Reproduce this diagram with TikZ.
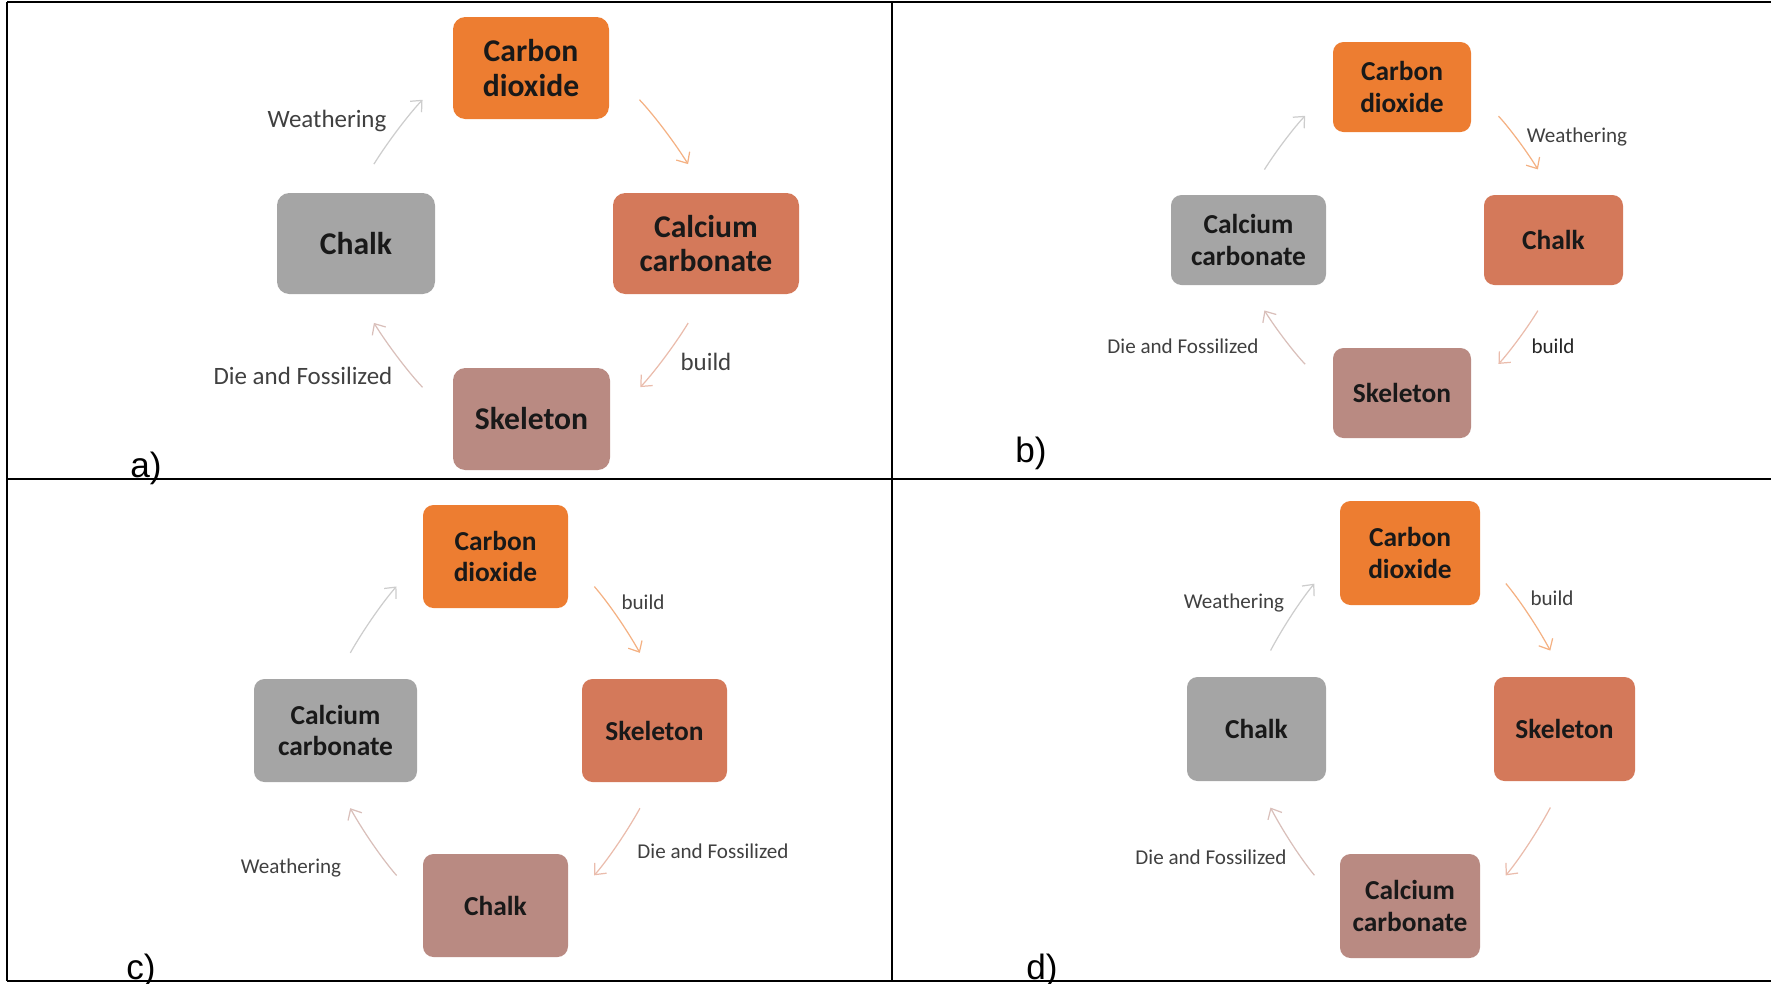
\documentclass[tikz,border=0pt]{standalone}
\usepackage{fontspec}
\setmainfont{Carlito}
\newfontfamily\panelfont{Liberation Sans}
\usetikzlibrary{arrows.meta}
\definecolor{cycorange}{HTML}{ED7D31}
\definecolor{cycterra}{HTML}{D4795A}
\definecolor{cycrose}{HTML}{B98A82}
\definecolor{cycgray}{HTML}{A5A5A5}
\definecolor{labelgray}{HTML}{404040}

\begin{document}
\begin{tikzpicture}[x=1cm, y=1cm,
    stage/.style={rounded corners=3pt, inner sep=0pt, outer sep=0pt, align=center,
      text=black!90, font=\bfseries\fontsize{7.8}{9}\selectfont},
    big stage/.style={stage, rounded corners=3.5pt, font=\bfseries\fontsize{9}{9.8}\selectfont},
    process/.style={text=labelgray, inner sep=0pt, font=\fontsize{6}{7}\selectfont},
    big process/.style={process, font=\fontsize{7.1}{8}\selectfont},
    flow/.style={line width=0.35pt, -{Straight Barb[length=2.5pt,width=4.5pt]}},
    % vertical anchor -> side anchor, and the other way round
    to side/.style={flow, shorten <=0.30cm, shorten >=0.40cm},
    from side/.style={flow, shorten <=0.40cm, shorten >=0.30cm},
    big to side/.style={flow, shorten <=0.34cm, shorten >=0.44cm},
    big from side/.style={flow, shorten <=0.44cm, shorten >=0.34cm},
    panel/.style={font=\panelfont\fontsize{10}{12}\selectfont, anchor=base, inner sep=0pt},
    grid line/.style={line width=0.6pt}]

  \useasboundingbox (0,0) rectangle (17.71,-9.83);

  % === Table frame ===
  \draw[grid line] (0.07,-0.02) -- (17.71,-0.02);
  \draw[grid line] (0.07,-4.79) -- (17.71,-4.79);
  \draw[grid line] (0.07,-9.81) -- (17.71,-9.81);
  \draw[grid line] (0.07,-0.02) -- (0.07,-9.81);
  \draw[grid line] (8.92,-0.02) -- (8.92,-9.81);

  % === a) ===
  \node[big stage, fill=cycorange, minimum width=1.56cm, minimum height=1.02cm]
    (co2a) at (5.31,-0.68) {Carbon\\dioxide};
  \node[big stage, fill=cycgray, minimum width=1.58cm, minimum height=1.01cm]
    (chalka) at (3.56,-2.435) {Chalk};
  \node[big stage, fill=cycterra, minimum width=1.86cm, minimum height=1.01cm]
    (caco3a) at (7.06,-2.435) {Calcium\\carbonate};
  \node[big stage, fill=cycrose, minimum width=1.57cm, minimum height=1.02cm]
    (skela) at (5.315,-4.19) {Skeleton};

  \draw[big to side, draw=cycgray!55] (chalka.north) to[bend left=6] (co2a.west);
  \draw[big from side, draw=cycorange!60] (co2a.east) to[bend left=6] (caco3a.north);
  \draw[big to side, draw=cycterra!50] (caco3a.south) to[bend left=6] (skela.east);
  \draw[big from side, draw=cycrose!55] (skela.west) to[bend left=6] (chalka.south);

  \node[big process] (wa) at (3.27,-1.21) {Weathering};
  \node[big process] (ba) at (7.06,-3.62) {build};
  \node[big process] (da) at (3.03,-3.76) {Die and Fossilized};
  \node[panel] (pa) at (1.46,-4.77) {a)};

  % === b) ===
  \node[stage, fill=cycorange, minimum width=1.38cm, minimum height=0.90cm]
    (co2b) at (14.02,-0.87) {Carbon\\dioxide};
  \node[stage, fill=cycgray, minimum width=1.55cm, minimum height=0.90cm]
    (caco3b) at (12.485,-2.40) {Calcium\\carbonate};
  \node[stage, fill=cycterra, minimum width=1.39cm, minimum height=0.90cm]
    (chalkb) at (15.535,-2.40) {Chalk};
  \node[stage, fill=cycrose, minimum width=1.38cm, minimum height=0.90cm]
    (skelb) at (14.02,-3.93) {Skeleton};

  \draw[to side, draw=cycgray!55] (caco3b.north) to[bend left=6] (co2b.west);
  \draw[from side, draw=cycorange!60] (co2b.east) to[bend left=6] (chalkb.north);
  \draw[to side, draw=cycterra!50] (chalkb.south) to[bend left=6] (skelb.east);
  \draw[from side, draw=cycrose!55] (skelb.west) to[bend left=6] (caco3b.south);

  \node[process] (wb) at (15.77,-1.37) {Weathering};
  \node[process, text=black!85] (bb) at (15.53,-3.46) {build};
  \node[process] (db) at (11.83,-3.46) {Die and Fossilized};
  \node[panel] (pb) at (10.31,-4.62) {b)};

  % === c) ===
  \node[stage, fill=cycorange, minimum width=1.45cm, minimum height=1.03cm]
    (co2c) at (4.955,-5.565) {Carbon\\dioxide};
  \node[stage, fill=cycgray, minimum width=1.63cm, minimum height=1.03cm]
    (caco3c) at (3.355,-7.305) {Calcium\\carbonate};
  \node[stage, fill=cycterra, minimum width=1.45cm, minimum height=1.03cm]
    (skelc) at (6.545,-7.305) {Skeleton};
  \node[stage, fill=cycrose, minimum width=1.45cm, minimum height=1.03cm]
    (chalkc) at (4.955,-9.055) {Chalk};

  \draw[to side, draw=cycgray!55] (caco3c.north) to[bend left=6] (co2c.west);
  \draw[from side, draw=cycorange!60] (co2c.east) to[bend left=6] (skelc.north);
  \draw[to side, draw=cycterra!50] (skelc.south) to[bend left=6] (chalkc.east);
  \draw[from side, draw=cycrose!55] (chalkc.west) to[bend left=6] (caco3c.south);

  \node[process] (bc) at (6.43,-6.02) {build};
  \node[process] (dc) at (7.13,-8.51) {Die and Fossilized};
  \node[process] (wc) at (2.91,-8.68) {Weathering};
  \node[panel] (pc) at (1.41,-9.79) {c)};

  % === d) ===
  \node[stage, fill=cycorange, minimum width=1.40cm, minimum height=1.04cm]
    (co2d) at (14.10,-5.53) {Carbon\\dioxide};
  \node[stage, fill=cycgray, minimum width=1.39cm, minimum height=1.04cm]
    (chalkd) at (12.565,-7.29) {Chalk};
  \node[stage, fill=cycterra, minimum width=1.41cm, minimum height=1.04cm]
    (skeld) at (15.645,-7.29) {Skeleton};
  \node[stage, fill=cycrose, minimum width=1.40cm, minimum height=1.04cm]
    (caco3d) at (14.10,-9.06) {Calcium\\carbonate};

  \draw[to side, draw=cycgray!55] (chalkd.north) to[bend left=6] (co2d.west);
  \draw[from side, draw=cycorange!60] (co2d.east) to[bend left=6] (skeld.north);
  \draw[to side, draw=cycterra!50] (skeld.south) to[bend left=6] (caco3d.east);
  \draw[from side, draw=cycrose!55] (caco3d.west) to[bend left=6] (chalkd.south);

  \node[process] (wd) at (12.34,-6.03) {Weathering};
  \node[process] (bd) at (15.52,-5.98) {build};
  \node[process] (dd) at (12.11,-8.57) {Die and Fossilized};
  \node[panel] (pd) at (10.42,-9.79) {d)};

\end{tikzpicture}
\end{document}
